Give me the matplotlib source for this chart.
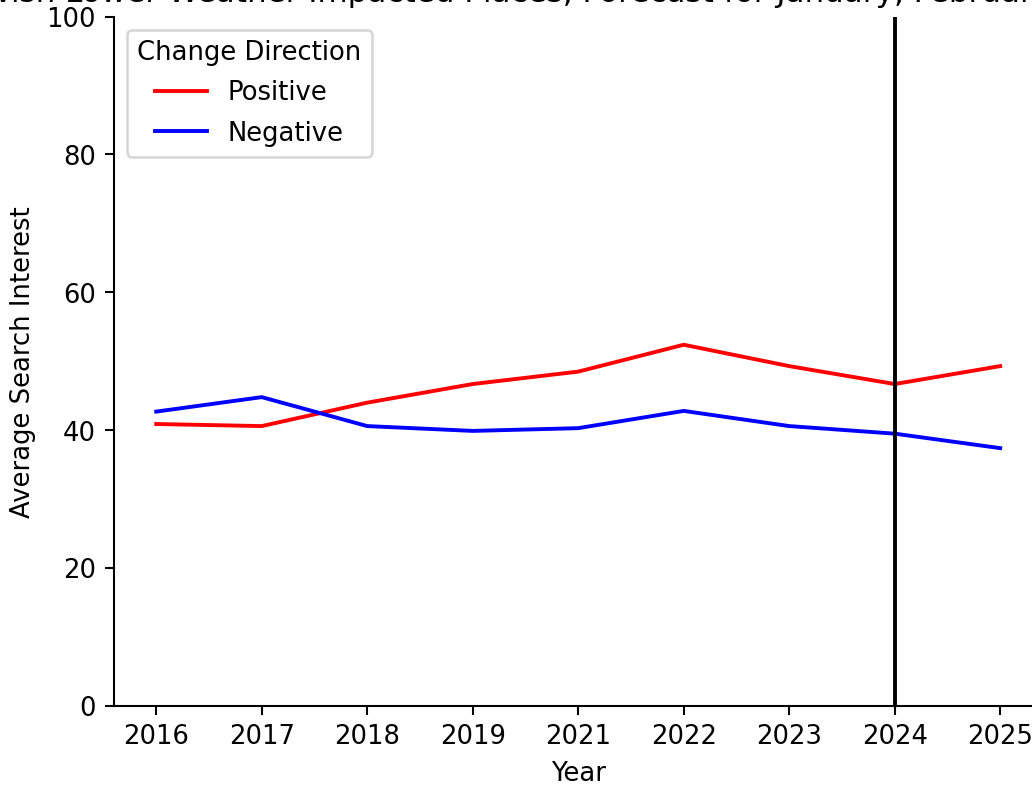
import matplotlib
matplotlib.use('Agg')
import matplotlib.pyplot as plt
import numpy as np

years = ['2016', '2017', '2018', '2019', '2021', '2022', '2023', '2024', '2025']
positive = [40.9, 40.6, 44.0, 46.7, 48.5, 52.4, 49.3, 46.7, 49.3]
negative = [42.7, 44.8, 40.6, 39.9, 40.3, 42.8, 40.6, 39.5, 37.4]
forecast_start = '2024'

dpi = 186
fig = plt.figure(figsize=(1032.4 / dpi, 785.4 / dpi), dpi=dpi)
ax = fig.add_axes([114 / 1032, 79 / 785, 928 / 1032, 689 / 785])

x = np.arange(len(years))
ax.plot(x, positive, color='red', label='Positive')
ax.plot(x, negative, color='blue', label='Negative')
ax.axvline(years.index(forecast_start), color='black')

ax.set_xticks(x)
ax.set_xticklabels(years)
ax.set_ylim(0, 100)
ax.set_xlabel('Year')
ax.set_ylabel('Average Search Interest')
ax.set_title('Wish Lower Weather Impacted Places, Forecast for January, February, March.', pad=6)
ax.legend(title='Change Direction', loc='upper left', labelspacing=0.55)
ax.spines['top'].set_visible(False)
ax.spines['right'].set_visible(False)

fig.savefig('out.png', dpi=dpi)
